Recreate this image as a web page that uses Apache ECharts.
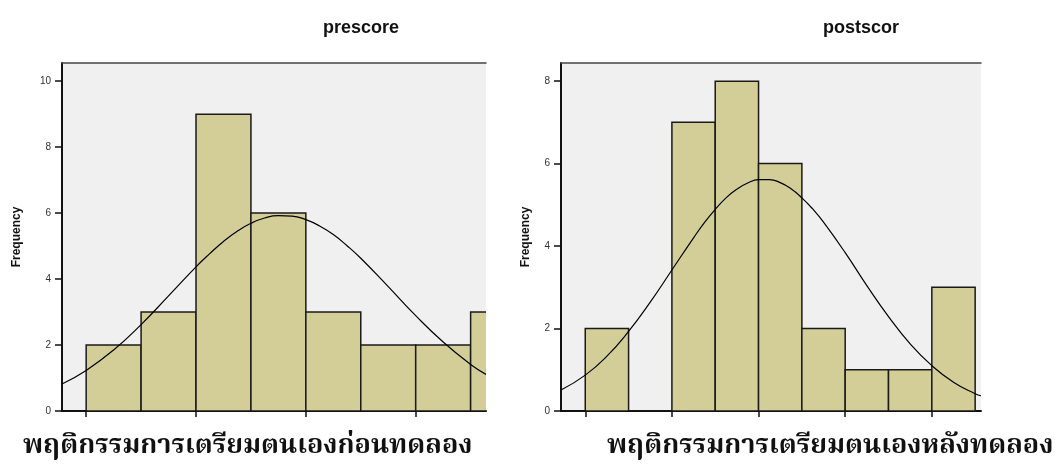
<!DOCTYPE html>
<html>
<head>
<meta charset="utf-8">
<script src="https://cdn.jsdelivr.net/npm/echarts@6/dist/echarts.min.js"></script>
<style>
  html, body { margin: 0; padding: 0; background: #fff; }
  #chart { width: 1055px; height: 466px; }
</style>
</head>
<body>
<div id="chart"></div>
<script>
// histogram bins are in bin units (bin i spans i..i+1)
const preCounts = [2, 3, 9, 6, 3, 2, 2, 3]
const postCounts = [2, 0, 7, 8, 6, 2, 1, 1, 3]

// normal curves
const preCurve = [
  [-0.44, 0.82], [0, 1.23], [0.5, 1.85], [1, 2.62], [1.5, 3.49], [2, 4.37],
  [2.25, 4.77], [2.5, 5.14], [2.75, 5.45], [3, 5.69], [3.25, 5.85], [3.5, 5.92],
  [3.75, 5.91], [4, 5.80], [4.25, 5.61], [4.5, 5.35], [4.75, 5.01], [5, 4.63],
  [5.5, 3.77], [6, 2.89], [6.5, 2.09], [7, 1.41], [7.28, 1.11]
]
const postCurve = [
  [-0.56, 0.51], [0, 0.87], [0.5, 1.33], [1, 1.93], [1.5, 2.64], [2, 3.42],
  [2.5, 4.20], [2.75, 4.57], [3, 4.89], [3.25, 5.17], [3.5, 5.38], [3.75, 5.53],
  [4, 5.61], [4.25, 5.61], [4.5, 5.54], [4.75, 5.39], [5, 5.17], [5.25, 4.90],
  [5.5, 4.58], [6, 3.84], [6.5, 3.04], [7, 2.29], [7.5, 1.63], [8, 1.10],
  [8.5, 0.70], [9, 0.42], [9.135, 0.37]
]

const preTicks = [0, 2, 4, 6]
const postTicks = [0, 2, 4, 6, 8]
const preYTicks = [0, 2, 4, 6, 8, 10]
const postYTicks = [0, 2, 4, 6, 8]

const titles = ['prescore', 'postscor']
const xLabels = ['พฤติกรรมการเตรียมตนเองก่อนทดลอง', 'พฤติกรรมการเตรียมตนเองหลังทดลอง']

const chart = echarts.init(document.getElementById('chart'))

const toBins = (counts) => counts.map((c, i) => [i, i + 1, c])

const renderBar = (params, api) => {
  const p0 = api.coord([api.value(0), api.value(2)])
  const p1 = api.coord([api.value(1), 0])
  return {
    type: 'rect',
    shape: { x: p0[0], y: p0[1], width: p1[0] - p0[0], height: p1[1] - p0[1] },
    style: { fill: '#d3ce97', stroke: '#1a1a1a', lineWidth: 1.5 }
  }
}

const latin = 'Arial, "Liberation Sans", sans-serif'
const thaiFont = '"Noto Serif Thai", "Noto Sans Thai", "Norasi", "Loma", "Garuda", serif'

const xAxisBottom = (idx, min, max, ticks) => ({
  gridIndex: idx,
  type: 'value',
  min: min,
  max: max,
  axisLine: { onZero: false, lineStyle: { color: '#111', width: 2 } },
  axisTick: { show: true, customValues: ticks, length: 6, lineStyle: { color: '#111', width: 1.5 } },
  axisLabel: { show: false },
  splitLine: { show: false }
})

const xAxisTop = (idx, min, max) => ({
  gridIndex: idx,
  type: 'value',
  position: 'top',
  min: min,
  max: max,
  axisLine: { onZero: false, lineStyle: { color: '#444', width: 1.5 } },
  axisTick: { show: false },
  axisLabel: { show: false },
  splitLine: { show: false }
})

const yAxis = (idx, max, gap, ticks) => ({
  gridIndex: idx,
  type: 'value',
  min: 0,
  max: max,
  name: 'Frequency',
  nameLocation: 'middle',
  nameRotate: 90,
  nameGap: gap,
  nameTextStyle: { fontFamily: latin, fontWeight: 'bold', fontSize: 12, color: '#111' },
  axisLine: { show: true, onZero: false, lineStyle: { color: '#111', width: 2 } },
  axisTick: { show: true, customValues: ticks, length: 7, lineStyle: { color: '#111', width: 1.5 } },
  axisLabel: { customValues: ticks, fontFamily: latin, fontSize: 10, color: '#333', margin: 11 },
  splitLine: { show: false }
})

chart.setOption({
  animation: false,
  title: [
    { text: titles[0], left: 356, top: 14, textAlign: 'center',
      textStyle: { fontFamily: latin, fontSize: 18, fontWeight: 'bold', color: '#111' } },
    { text: titles[1], left: 856, top: 14, textAlign: 'center',
      textStyle: { fontFamily: latin, fontSize: 18, fontWeight: 'bold', color: '#111' } },
    { text: xLabels[0], left: 18, top: 430,
      textStyle: { fontFamily: thaiFont, fontSize: 27, fontWeight: 'bold', color: '#111' } },
    { text: xLabels[1], left: 602, top: 430,
      textStyle: { fontFamily: thaiFont, fontSize: 27, fontWeight: 'bold', color: '#111' } }
  ],
  grid: [
    { left: 62, top: 63, width: 424, height: 348, show: true, backgroundColor: '#f0f0f0', borderWidth: 0 },
    { left: 561, top: 63, width: 420, height: 348, show: true, backgroundColor: '#f0f0f0', borderWidth: 0 }
  ],
  xAxis: [
    xAxisBottom(0, -0.44, 7.28, preTicks),
    xAxisTop(0, -0.44, 7.28),
    xAxisBottom(1, -0.56, 9.135, postTicks),
    xAxisTop(1, -0.56, 9.135)
  ],
  yAxis: [
    yAxis(0, 10.55, 39, preYTicks),
    yAxis(1, 8.44, 29, postYTicks)
  ],
  series: [
    { type: 'custom', xAxisIndex: 0, yAxisIndex: 0, clip: true, renderItem: renderBar,
      encode: { x: [0, 1], y: 2 }, data: toBins(preCounts) },
    { type: 'line', xAxisIndex: 0, yAxisIndex: 0, smooth: true, showSymbol: false,
      lineStyle: { color: '#000', width: 1.2 }, data: preCurve, z: 5 },
    { type: 'custom', xAxisIndex: 2, yAxisIndex: 1, clip: true, renderItem: renderBar,
      encode: { x: [0, 1], y: 2 }, data: toBins(postCounts) },
    { type: 'line', xAxisIndex: 2, yAxisIndex: 1, smooth: true, showSymbol: false,
      lineStyle: { color: '#000', width: 1.2 }, data: postCurve, z: 5 }
  ]
})
</script>
</body>
</html>
